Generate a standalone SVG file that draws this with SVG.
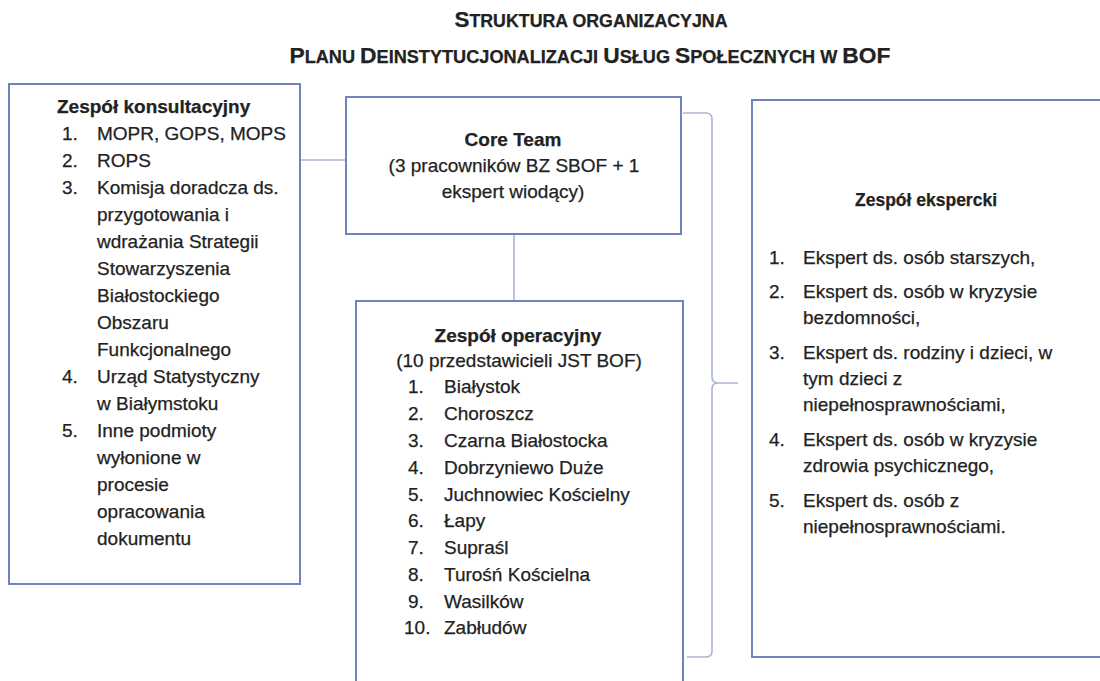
<svg xmlns="http://www.w3.org/2000/svg" width="1100" height="681" viewBox="0 0 1100 681">
<style>
.bg{fill:#ffffff}
.box{fill:#ffffff;stroke:#6d84bd;stroke-width:2}
.con{fill:none;stroke:#a9b5d3;stroke-width:1.6}
text{font-family:"Liberation Sans",Arial,sans-serif;fill:#222222;stroke:#222222;stroke-width:0.25}
.t{font-size:19px}
.b{font-size:19px;font-weight:bold}
.h{font-size:22px;font-weight:bold}
.sc{font-size:17.5px}
.m{text-anchor:middle}
</style>
<rect class="bg" x="0" y="0" width="1100" height="681"/>
<g id="title">
<text class="h m" x="591" y="27" textLength="273" lengthAdjust="spacingAndGlyphs">S<tspan class="sc">TRUKTURA ORGANIZACYJNA</tspan></text>
<text class="h m" x="590" y="63" textLength="601" lengthAdjust="spacingAndGlyphs">P<tspan class="sc">LANU </tspan>D<tspan class="sc">EINSTYTUCJONALIZACJI </tspan>U<tspan class="sc">SŁUG </tspan>S<tspan class="sc">POŁECZNYCH W </tspan>BOF</text>
</g>
<g id="connectors">
<line class="con" x1="300" y1="160" x2="346" y2="160"/>
<line class="con" x1="514" y1="234" x2="514" y2="301"/>
<path class="con" d="M683,113 L706,113 Q712,113 712,119 L712,377 Q712,383 718,383 L738,383 M718,383 Q712,383 712,389 L712,651 Q712,657 706,657 L687,657"/>
</g>
<g id="zespol-konsultacyjny">
<rect class="box" x="9" y="84" width="291" height="500"/>
<text class="b" x="57" y="113">Zespół konsultacyjny</text>
<text class="t" x="62" y="140">1.</text><text class="t" x="97" y="140">MOPR, GOPS, MOPS</text>
<text class="t" x="62" y="167">2.</text><text class="t" x="97" y="167">ROPS</text>
<text class="t" x="62" y="194">3.</text><text class="t" x="97" y="194">Komisja doradcza ds.</text>
<text class="t" x="97" y="221">przygotowania i</text>
<text class="t" x="97" y="248">wdrażania Strategii</text>
<text class="t" x="97" y="275">Stowarzyszenia</text>
<text class="t" x="97" y="302">Białostockiego</text>
<text class="t" x="97" y="329">Obszaru</text>
<text class="t" x="97" y="356">Funkcjonalnego</text>
<text class="t" x="62" y="383">4.</text><text class="t" x="97" y="383">Urząd Statystyczny</text>
<text class="t" x="97" y="410">w Białymstoku</text>
<text class="t" x="62" y="437">5.</text><text class="t" x="97" y="437">Inne podmioty</text>
<text class="t" x="97" y="464">wyłonione w</text>
<text class="t" x="97" y="491">procesie</text>
<text class="t" x="97" y="518">opracowania</text>
<text class="t" x="97" y="545">dokumentu</text>
</g>
<g id="core-team">
<rect class="box" x="346" y="97" width="335" height="137"/>
<text class="b m" x="513" y="146">Core Team</text>
<text class="t m" x="514" y="172">(3 pracowników BZ SBOF + 1</text>
<text class="t m" x="513" y="198">ekspert wiodący)</text>
</g>
<g id="zespol-operacyjny">
<rect class="box" x="356" y="301" width="327" height="390"/>
<text class="b m" x="518" y="342">Zespół operacyjny</text>
<text class="t m" x="519" y="367">(10 przedstawicieli JST BOF)</text>
<text class="t" x="408" y="393">1.</text><text class="t" x="444" y="393">Białystok</text>
<text class="t" x="408" y="420">2.</text><text class="t" x="444" y="420">Choroszcz</text>
<text class="t" x="408" y="447">3.</text><text class="t" x="444" y="447">Czarna Białostocka</text>
<text class="t" x="408" y="474">4.</text><text class="t" x="444" y="474">Dobrzyniewo Duże</text>
<text class="t" x="408" y="501">5.</text><text class="t" x="444" y="501">Juchnowiec Kościelny</text>
<text class="t" x="408" y="527">6.</text><text class="t" x="444" y="527">Łapy</text>
<text class="t" x="408" y="554">7.</text><text class="t" x="444" y="554">Supraśl</text>
<text class="t" x="408" y="581">8.</text><text class="t" x="444" y="581">Turośń Kościelna</text>
<text class="t" x="408" y="608">9.</text><text class="t" x="444" y="608">Wasilków</text>
<text class="t" x="404" y="634">10.</text><text class="t" x="444" y="634">Zabłudów</text>
</g>
<g id="zespol-ekspercki">
<rect class="box" x="752" y="100" width="360" height="557"/>
<text class="m" x="926" y="206" style="font-size:17.5px;font-weight:bold">Zespół ekspercki</text>
<text class="t" x="769" y="264">1.</text><text class="t" x="803" y="264">Ekspert ds. osób starszych,</text>
<text class="t" x="769" y="298">2.</text><text class="t" x="803" y="298">Ekspert ds. osób w kryzysie</text>
<text class="t" x="803" y="324">bezdomności,</text>
<text class="t" x="769" y="359">3.</text><text class="t" x="803" y="359">Ekspert ds. rodziny i dzieci, w</text>
<text class="t" x="803" y="385">tym dzieci z</text>
<text class="t" x="803" y="411">niepełnosprawnościami,</text>
<text class="t" x="769" y="446">4.</text><text class="t" x="803" y="446">Ekspert ds. osób w kryzysie</text>
<text class="t" x="803" y="472">zdrowia psychicznego,</text>
<text class="t" x="769" y="507">5.</text><text class="t" x="803" y="507">Ekspert ds. osób z</text>
<text class="t" x="803" y="533">niepełnosprawnościami.</text>
</g>
</svg>
